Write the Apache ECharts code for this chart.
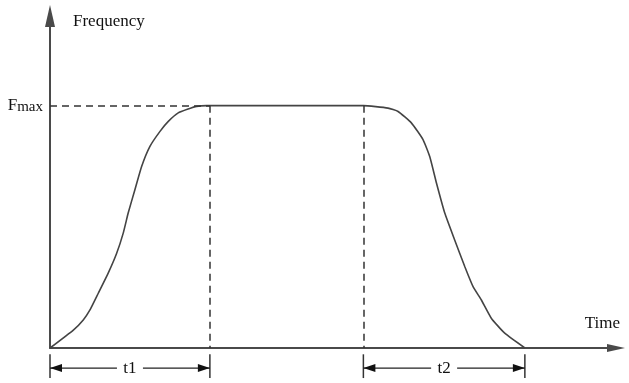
<!DOCTYPE html>
<html>
<head>
<meta charset="utf-8">
<script src="https://cdn.jsdelivr.net/npm/echarts@6/dist/echarts.min.js"></script>
<style>
  html, body { margin: 0; padding: 0; background: #fff; }
  #chart { width: 629px; height: 383px; }
</style>
</head>
<body>
<div id="chart"></div>
<script>
// Frequency ramp profile: acceleration over t1, constant Fmax, deceleration over t2.
const fmax = 100;
const t1End = 100;
const t2Start = 196;
const t2End = 297;

// Ramp-up samples (time, frequency)
const riseTime = [0, 14.6, 20.8, 25, 30.2, 36.4, 41.7, 45.8, 48.9, 53.1, 57.3, 62.5, 68.8, 74, 80.2, 86.4, 91.7, 98, 100];
const riseFreq = [0, 7.4, 11.6, 15.7, 22.6, 30.9, 39.1, 47.4, 55.7, 65.3, 74.9, 83.2, 89.4, 93.5, 97, 98.6, 99.7, 100, 100];

// Ramp-down samples (time, frequency)
const fallTime = [196, 211.4, 217.7, 226, 233.3, 237.5, 241.7, 246.9, 253.1, 259.4, 264.6, 269.8, 276, 284.4, 297];
const fallFreq = [100, 99, 97.6, 92.9, 86, 79, 68.1, 55.7, 44.6, 33.6, 25.3, 19.8, 12.3, 6.1, 0];

// Dimension annotations under the time axis
const dimLabels = ['t1', 't2'];
const dimStarts = [0, t2Start];
const dimEnds = [t1End, t2End];

// Axis extents and dimension-line levels
const timeMax = 354;
const freqMax = 137;
const dimLevel = -8.3;
const tickTop = -2.6;
const tickBottom = -12.4;

const profile = [];
riseTime.forEach((t, i) => profile.push([t, riseFreq[i]]));
fallTime.forEach((t, i) => profile.push([t, fallFreq[i]]));

const serif = 'Liberation Serif, Times New Roman, serif';
const ink = '#111';
const axisColor = '#4a4a4a';
const headPath = 'path://M5,0 L10,10 L0,10 Z';
const yArrow = 'path://M5,0 L10,22 L0,22 Z';
const xArrow = 'path://M4,0 L8,18 L0,18 Z';

const series = [
  {
    name: 'Frequency',
    type: 'line',
    data: profile,
    showSymbol: false,
    smooth: 0.15,
    lineStyle: { color: '#444', width: 1.6 },
    z: 3
  },
  {
    // dashed guides from Fmax and the ramp boundaries
    type: 'line',
    data: [],
    markLine: {
      silent: true,
      symbol: ['none', 'none'],
      label: { show: false },
      lineStyle: { color: '#333', width: 1.5, type: [7, 5] },
      data: [
        [{ coord: [0, fmax] }, { coord: [t1End, fmax] }],
        [{ coord: [t1End, fmax] }, { coord: [t1End, 0] }],
        [{ coord: [t2Start, fmax] }, { coord: [t2Start, 0] }]
      ]
    },
    z: 2
  }
];

// extension ticks under the time axis
[0, t1End, t2Start, t2End].forEach(t => {
  series.push({
    type: 'line',
    clip: false,
    showSymbol: false,
    silent: true,
    lineStyle: { color: '#333', width: 1.5 },
    data: [[t, tickTop], [t, tickBottom]]
  });
});

// dimension lines with arrowheads and centred labels
dimLabels.forEach((lab, i) => {
  const a = dimStarts[i], b = dimEnds[i];
  series.push({
    type: 'line',
    clip: false,
    showSymbol: false,
    silent: true,
    lineStyle: { color: '#222', width: 1.3 },
    data: [[a, dimLevel], [b, dimLevel]]
  });
  series.push({
    type: 'scatter',
    clip: false,
    silent: true,
    itemStyle: { color: '#111', opacity: 1 },
    data: [
      { value: [a, dimLevel], symbol: headPath, symbolSize: [8, 12], symbolRotate: 90, symbolOffset: [6, 0] },
      { value: [b, dimLevel], symbol: headPath, symbolSize: [8, 12], symbolRotate: -90, symbolOffset: [-6, 0] }
    ],
    z: 4
  });
  series.push({
    type: 'scatter',
    clip: false,
    silent: true,
    symbol: 'rect',
    symbolSize: [26, 16],
    itemStyle: { color: '#fff', opacity: 1 },
    label: {
      show: true,
      position: 'inside',
      formatter: lab,
      fontFamily: serif,
      fontSize: 17,
      color: ink
    },
    data: [[(a + b) / 2, dimLevel]],
    z: 5
  });
});

const chart = echarts.init(document.getElementById('chart'), null, { renderer: 'canvas' });

chart.setOption({
  backgroundColor: '#fff',
  animation: false,
  grid: { left: 50, right: 13, top: 16, bottom: 35, containLabel: false, outerBoundsMode: 'none' },
  xAxis: {
    type: 'value',
    min: 0,
    max: timeMax,
    name: 'Time',
    nameLocation: 'end',
    nameGap: 4,
    nameTextStyle: { fontFamily: serif, fontSize: 17, color: ink, align: 'right', verticalAlign: 'bottom', padding: [0, 0, 16, 0] },
    axisLine: {
      show: true,
      symbol: ['none', xArrow],
      symbolSize: [8, 18],
      lineStyle: { color: axisColor, width: 2 }
    },
    axisTick: { show: false },
    axisLabel: { show: false },
    splitLine: { show: false }
  },
  yAxis: {
    type: 'value',
    min: 0,
    max: freqMax,
    name: 'Frequency',
    nameLocation: 'end',
    nameGap: -6,
    nameTextStyle: { fontFamily: serif, fontSize: 17, color: ink, align: 'left', verticalAlign: 'middle', padding: [0, 0, 0, 23] },
    axisLine: {
      show: true,
      symbol: ['none', yArrow],
      symbolSize: [10, 22],
      lineStyle: { color: axisColor, width: 2 }
    },
    axisTick: { show: false },
    splitLine: { show: false },
    axisLabel: {
      show: true,
      customValues: [fmax],
      margin: 7,
      formatter: () => '{f|F}{s|max}',
      rich: {
        f: { fontFamily: serif, fontSize: 17, color: ink },
        s: { fontFamily: serif, fontSize: 15, color: ink, padding: [2, 0, 0, 0] }
      }
    }
  },
  series: series
});
</script>
</body>
</html>
